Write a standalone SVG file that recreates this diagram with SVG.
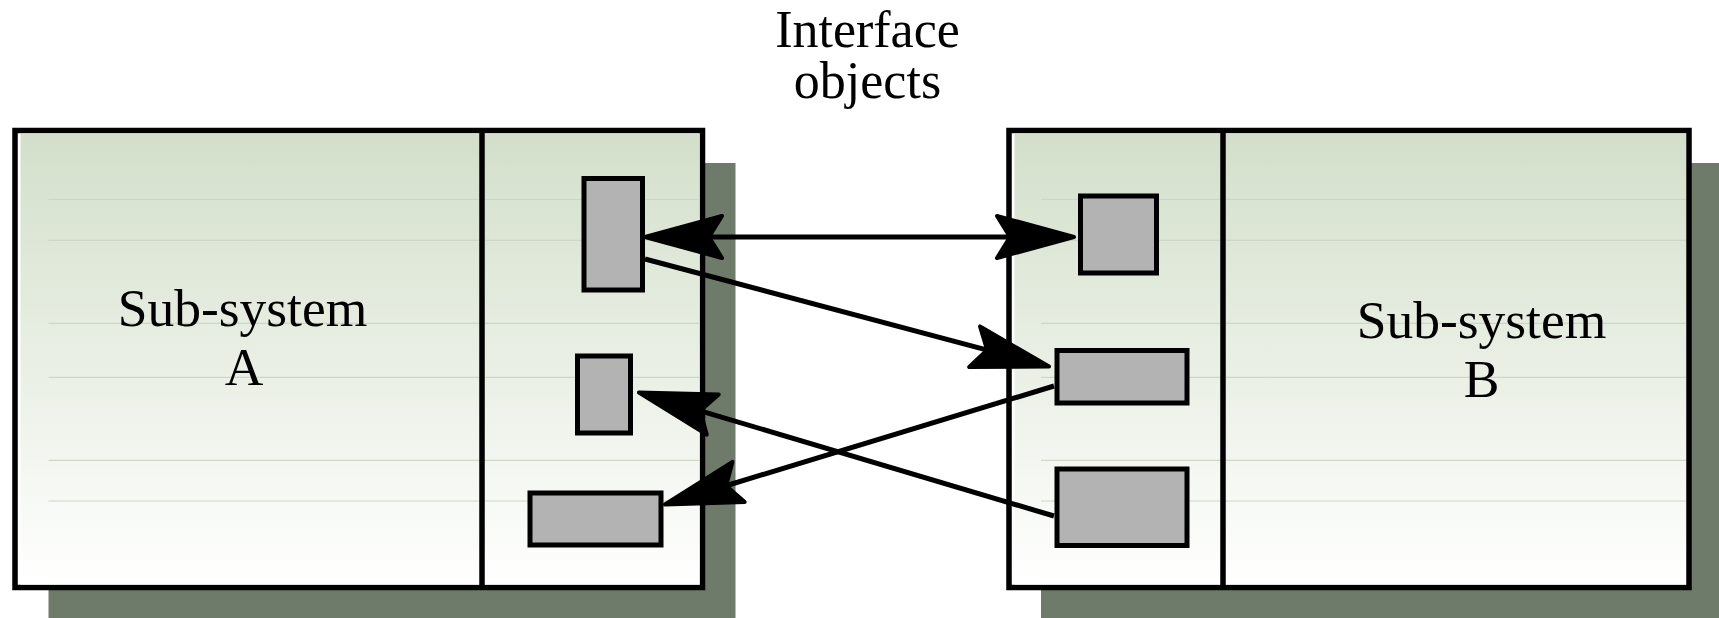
<svg xmlns="http://www.w3.org/2000/svg" width="1719" height="618" viewBox="0 0 1719 618">
  <style>
    .shadow { fill: #6e7a6a; }
    .box { fill: #ffffff; stroke: #000000; stroke-width: 5.5; }
    .fill { fill: url(#grad); }
    .div { stroke: #000000; stroke-width: 5.5; }
    .rule { stroke: #cdd7c6; stroke-width: 1.2; }
    .obj { fill: #b3b3b3; stroke: #000000; stroke-width: 5; }
    .conn { fill: none; stroke: #000000; stroke-width: 5; }
    .label { fill: #000000; text-anchor: middle; }
  </style>
  <defs>
    <linearGradient id="grad" x1="0" y1="0" x2="0" y2="1">
      <stop offset="0" stop-color="#d3dfca"/>
      <stop offset="1" stop-color="#ffffff"/>
    </linearGradient>
    <marker id="head" markerUnits="userSpaceOnUse" markerWidth="200" markerHeight="200" refX="0" refY="0" orient="auto-start-reverse" overflow="visible">
      <path d="M58,0 L-19,-21 L-6,0 L-19,21 Z" fill="#000000" stroke="#000000" stroke-width="4" stroke-linejoin="round"/>
    </marker>
  </defs>

  <g id="label-interface" font-family="Liberation Serif, Times New Roman, serif">
    <text class="label" x="867.5" y="46.7" font-size="52">Interface</text>
    <text class="label" x="867.5" y="98.3" font-size="52">objects</text>
  </g>

  <g id="subsystem-a">
    <rect class="shadow" x="48.5" y="163" width="687" height="460"/>
    <rect class="box" x="15" y="130.5" width="687.5" height="457"/>
    <rect class="fill" x="20.5" y="133.5" width="679" height="451"/>
    <g>
      <line class="rule" x1="48.5" y1="199.3" x2="699.5" y2="199.3"/>
      <line class="rule" x1="48.5" y1="240.3" x2="699.5" y2="240.3"/>
      <line class="rule" x1="48.5" y1="323.3" x2="699.5" y2="323.3"/>
      <line class="rule" x1="48.5" y1="377.3" x2="699.5" y2="377.3"/>
      <line class="rule" x1="48.5" y1="460.3" x2="699.5" y2="460.3"/>
      <line class="rule" x1="48.5" y1="501" x2="699.5" y2="501"/>
    </g>
    <line class="div" x1="482" y1="130.5" x2="482" y2="587.5"/>
    <g font-family="Liberation Serif, Times New Roman, serif">
      <text class="label" x="242.5" y="326" font-size="53.5">Sub-system</text>
      <text class="label" x="244" y="385" font-size="53.5">A</text>
    </g>
  </g>

  <g id="subsystem-b">
    <rect class="shadow" x="1041" y="163" width="690" height="460"/>
    <rect class="box" x="1009" y="130.5" width="680" height="457"/>
    <rect class="fill" x="1014.5" y="133.5" width="671.5" height="451"/>
    <g>
      <line class="rule" x1="1041" y1="199.3" x2="1686" y2="199.3"/>
      <line class="rule" x1="1041" y1="240.3" x2="1686" y2="240.3"/>
      <line class="rule" x1="1041" y1="323.3" x2="1686" y2="323.3"/>
      <line class="rule" x1="1041" y1="377.3" x2="1686" y2="377.3"/>
      <line class="rule" x1="1041" y1="460.3" x2="1686" y2="460.3"/>
      <line class="rule" x1="1041" y1="501" x2="1686" y2="501"/>
    </g>
    <line class="div" x1="1223" y1="130.5" x2="1223" y2="587.5"/>
    <g font-family="Liberation Serif, Times New Roman, serif">
      <text class="label" x="1481.5" y="338.3" font-size="53.5">Sub-system</text>
      <text class="label" x="1481.5" y="396.7" font-size="53.5">B</text>
    </g>
  </g>

  <g id="a-obj1"><rect class="obj" x="584" y="178.5" width="58.5" height="111.5"/></g>
  <g id="a-obj2"><rect class="obj" x="577.5" y="356" width="53" height="77"/></g>
  <g id="a-obj3"><rect class="obj" x="530" y="493" width="131" height="52"/></g>
  <g id="b-obj1"><rect class="obj" x="1080.5" y="196" width="76" height="77"/></g>
  <g id="b-obj2"><rect class="obj" x="1057" y="350.5" width="130" height="52.5"/></g>
  <g id="b-obj3"><rect class="obj" x="1057" y="469" width="130" height="76.5"/></g>

  <g id="connectors">
    <line class="conn" x1="703" y1="237" x2="1016" y2="237" marker-start="url(#head)" marker-end="url(#head)"/>
    <line class="conn" x1="645" y1="259" x2="993" y2="351.6" marker-end="url(#head)"/>
    <line class="conn" x1="1054" y1="516" x2="694.5" y2="409.1" marker-end="url(#head)"/>
    <line class="conn" x1="1054" y1="386" x2="720.4" y2="487.5" marker-end="url(#head)"/>
  </g>
</svg>
